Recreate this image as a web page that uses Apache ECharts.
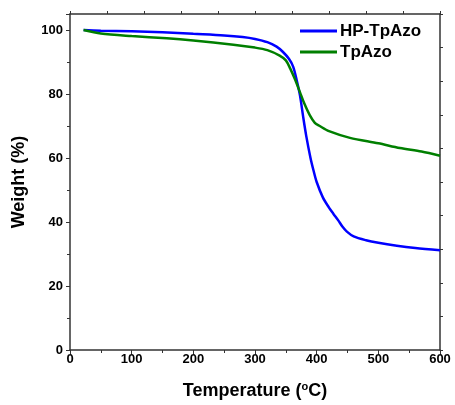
<!DOCTYPE html>
<html>
<head>
<meta charset="utf-8">
<script src="https://cdn.jsdelivr.net/npm/echarts@6/dist/echarts.min.js"></script>
<style>html,body{margin:0;padding:0;background:#fff}#c{width:455px;height:405px}</style>
</head>
<body>
<div id="c"></div>
<script>
var seriesNames = ['HP-TpAzo', 'TpAzo'];
var hpTemp =   [22, 50, 100, 150, 200, 250, 280, 300, 320, 335, 345, 355, 362, 368, 373, 378, 383, 390, 395, 400, 410, 420, 427, 435, 442, 449, 460, 480, 500, 530, 560, 600];
var hpWeight = [100, 99.8, 99.6, 99.3, 98.8, 98.3, 97.8, 97.2, 96.2, 94.8, 93.2, 91, 88.5, 84, 79.5, 73, 67, 60, 56, 52.5, 47.7, 44.5, 42.6, 40.5, 38.5, 37, 35.5, 34.3, 33.5, 32.6, 31.9, 31.2];
var tpTemp =   [22, 50, 100, 157, 200, 265, 300, 320, 340, 350, 357, 365, 373, 380, 389, 397, 405, 420, 454, 500, 535, 570, 600];
var tpWeight = [100, 98.9, 98.1, 97.4, 96.7, 95.4, 94.5, 93.7, 92, 90.5, 88, 84.5, 80.5, 77, 73.3, 71, 70, 68.4, 66.3, 64.6, 63.1, 62, 60.7];
var xTicks = [0, 100, 200, 300, 400, 500, 600];
var yTicks = [0, 20, 40, 60, 80, 100];

function pairs(xs, ys) { return xs.map(function (x, i) { return [x, ys[i]]; }); }

var font = 'Liberation Sans, Arial, sans-serif';
var axisLine = { show: true, onZero: false, lineStyle: { color: '#333', width: 1.5 } };
var chart = echarts.init(document.getElementById('c'));
chart.setOption({
  animation: false,
  backgroundColor: '#fff',
  grid: { left: 70, right: 15, top: 14, bottom: 50 },
  legend: {
    orient: 'vertical', left: 295, top: 17, itemWidth: 37, itemHeight: 3, itemGap: 3, icon: 'rect',
    textStyle: { fontFamily: font, fontWeight: 'bold', fontSize: 17, lineHeight: 18, color: '#000', padding: [0, 0, 0, -2] },
    data: seriesNames
  },
  xAxis: [{
    type: 'value', min: 0, max: 600, interval: 100, position: 'bottom',
    axisLine: axisLine,
    axisTick: { show: true, inside: false, length: 4, lineStyle: { color: '#333' } },
    minorTick: { show: true, splitNumber: 2, length: 3, lineStyle: { color: '#333' } },
    splitLine: { show: false },
    axisLabel: { fontFamily: font, fontWeight: 'bold', fontSize: 13, color: '#000', margin: 3,
      formatter: function (v) { return xTicks.indexOf(v) >= 0 ? String(v) : ''; } },
    name: 'Temperature ({sup|o}C)', nameLocation: 'middle', nameGap: 31,
    nameTextStyle: { fontFamily: font, fontWeight: 'bold', fontSize: 18, color: '#000',
      rich: { sup: { fontFamily: font, fontWeight: 'bold', fontSize: 11, color: '#000', padding: [0, 0, 9, 0] } } }
  }, {
    type: 'value', min: 0, max: 600, interval: 60, position: 'top',
    axisLine: axisLine,
    axisTick: { show: true, inside: false, length: 3, lineStyle: { color: '#333' } },
    axisLabel: { show: false }, splitLine: { show: false }
  }],
  yAxis: [{
    type: 'value', min: 0, max: 105, interval: 20, position: 'left',
    axisLine: axisLine,
    axisTick: { show: true, inside: false, length: 4, lineStyle: { color: '#333' } },
    minorTick: { show: true, splitNumber: 2, length: 3, lineStyle: { color: '#333' } },
    splitLine: { show: false },
    axisLabel: { fontFamily: font, fontWeight: 'bold', fontSize: 13, color: '#000', margin: 7,
      formatter: function (v) { return yTicks.indexOf(v) >= 0 ? String(v) : ''; } },
    name: 'Weight (%)', nameLocation: 'middle', nameGap: 42, nameRotate: 90,
    nameTextStyle: { fontFamily: font, fontWeight: 'bold', fontSize: 18, color: '#000' }
  }, {
    type: 'value', min: 0, max: 105, interval: 10.5, position: 'right',
    axisLine: axisLine,
    axisTick: { show: true, inside: false, length: 3, lineStyle: { color: '#333' } },
    axisLabel: { show: false }, splitLine: { show: false }
  }],
  series: [{
    name: seriesNames[0], type: 'line', xAxisIndex: 0, yAxisIndex: 0,
    data: pairs(hpTemp, hpWeight), smooth: 0.3, symbol: 'none',
    lineStyle: { color: '#0000ff', width: 2.5 }, itemStyle: { color: '#0000ff' }
  }, {
    name: seriesNames[1], type: 'line', xAxisIndex: 0, yAxisIndex: 0,
    data: pairs(tpTemp, tpWeight), smooth: 0.3, symbol: 'none',
    lineStyle: { color: '#007f00', width: 2.5 }, itemStyle: { color: '#007f00' }
  }]
});
</script>
</body>
</html>
